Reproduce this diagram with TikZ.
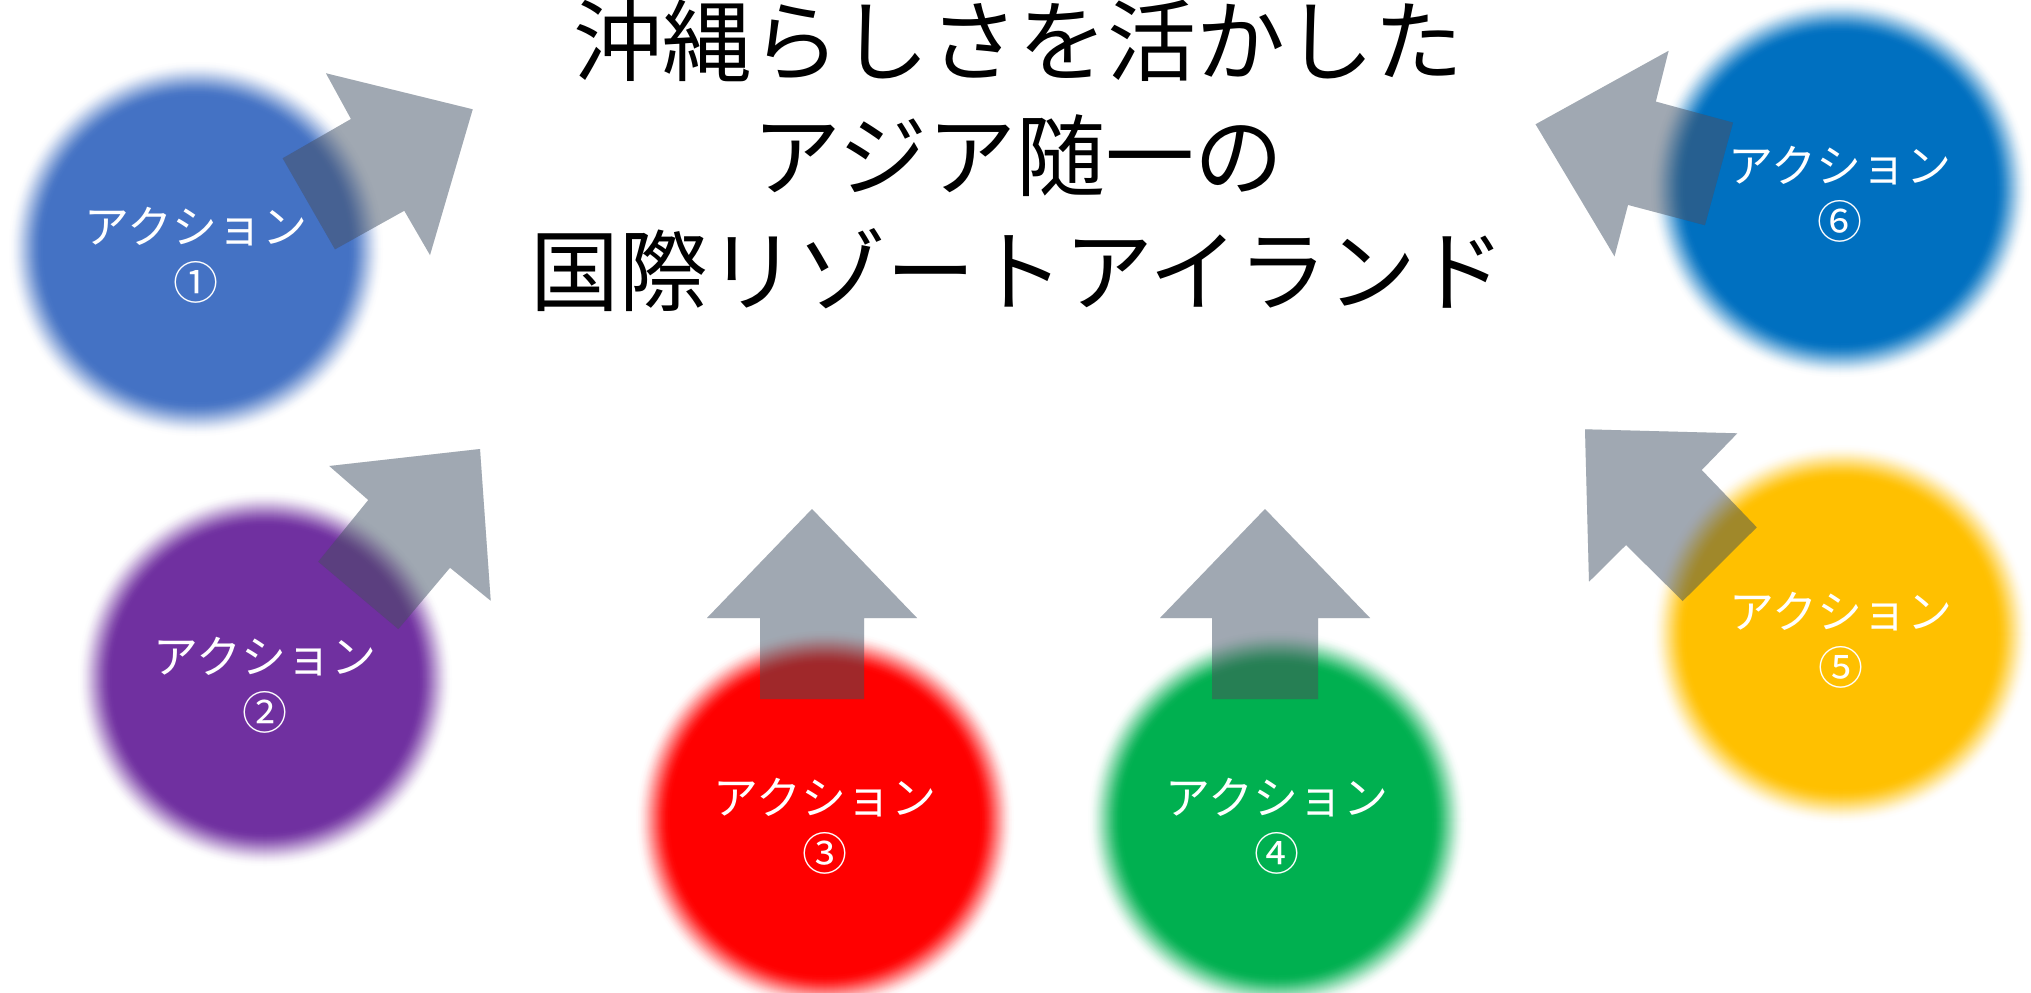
\documentclass[tikz,border=0pt]{standalone}
\usepackage{fontspec}
\setmainfont{Noto Sans CJK JP}
\definecolor{cA}{HTML}{4472C4}
\definecolor{cB}{HTML}{7030A0}
\definecolor{cC}{HTML}{FF0000}
\definecolor{cD}{HTML}{00B050}
\definecolor{cE}{HTML}{FFC000}
\definecolor{cF}{HTML}{0070C0}
\definecolor{arrowgray}{HTML}{A0A8B2}
\newcommand{\softdisc}[3]{%
  \foreach \k in {0,...,35}{%
    \pgfmathsetmacro{\rr}{#2+18-\k}%
    \pgfmathsetmacro{\tt}{(\k+0.5)/36}%
    \pgfmathtruncatemacro{\pp}{round(100*(3*\tt*\tt-2*\tt*\tt*\tt))}%
    \fill[#3!\pp!white] (#1) circle[radius=\rr];
  }%
  \fill[#3] (#1) circle[radius=#2-18];
}
\begin{document}
\begin{tikzpicture}[x=0.5pt,y=-0.5pt,
  blockarrow/.style={fill=arrowgray, blend mode=multiply},
  arrowveil/.style={fill=arrowgray, fill opacity=0.24},
  lbl/.style={text=white, align=center, inner sep=0pt, yshift=-3pt, font=\fontsize{22.5pt}{28pt}\selectfont},
  ttl/.style={text=black, align=center, inner sep=0pt, font=\fontsize{44.5pt}{57.5pt}\selectfont}]
\useasboundingbox (0,0) rectangle (2031,992);
\fill[white] (0,0) rectangle (2031,992);

% circle centres
\coordinate (p1) at (196,249);
\coordinate (p2) at (265,679);
\coordinate (p3) at (825,820);
\coordinate (p4) at (1277,820);
\coordinate (p5) at (1841,634);
\coordinate (p6) at (1840,188);

% soft-edged discs
\softdisc{p1}{170}{cA}
\softdisc{p2}{170}{cB}
\softdisc{p3}{172}{cC}
\softdisc{p4}{172}{cD}
\softdisc{p5}{172}{cE}
\softdisc{p6}{172}{cF}

% block arrows (multiply, then a light veil of the same grey)
\foreach \st in {blockarrow,arrowveil}{
\fill[\st] (282.7,158.3) -- (351,119) -- (326,73.3) -- (472.7,109.3) -- (430,255) -- (404.3,210.7) -- (335,249.3) -- cycle;
\fill[\st] (318.3,561.7) -- (368.3,500) -- (329.3,466) -- (480,449) -- (490.7,600.7) -- (450,567.7) -- (398.3,629) -- cycle;
\fill[\st] (760,699) -- (760,618) -- (707,618) -- (812,509) -- (917,618) -- (864,618) -- (864,699) -- cycle;
\fill[\st] (1212,699) -- (1212,618) -- (1160,618) -- (1265,509) -- (1370,618) -- (1318,618) -- (1318,699) -- cycle;
\fill[\st] (1585,429.3) -- (1737.3,433.3) -- (1701.7,470) -- (1756.7,527.3) -- (1682.7,601) -- (1626,545) -- (1589,581.7) -- cycle;
\fill[\st] (1733,122.6) -- (1704.9,225.2) -- (1628,204.9) -- (1614.5,256.3) -- (1535.6,124.3) -- (1668.6,50.8) -- (1655.8,101.6) -- cycle;
}

% labels
\node[lbl] (a1) at (p1) {アクション\\①};
\node[lbl] (a2) at (p2) {アクション\\②};
\node[lbl] (a3) at (p3) {アクション\\③};
\node[lbl] (a4) at (p4) {アクション\\④};
\node[lbl] (a5) at (p5) {アクション\\⑤};
\node[lbl] (a6) at (p6) {アクション\\⑥};

% title
\node[ttl] (title) at (1018,156) {沖縄らしさを活かした\\アジア随一の\\国際リゾートアイランド};
\end{tikzpicture}
\end{document}
